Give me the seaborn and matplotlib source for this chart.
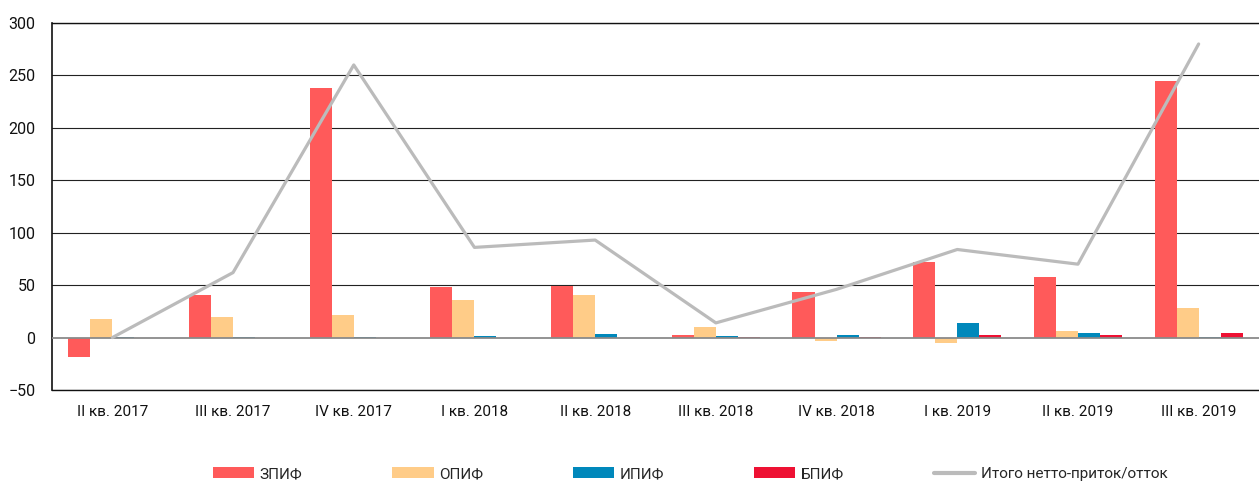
import numpy as np
import pandas as pd
import matplotlib
matplotlib.use("Agg")
import matplotlib.pyplot as plt
import seaborn as sns
from matplotlib.lines import Line2D
from matplotlib.patches import Patch

# Кварталы и значения (млрд руб.)
quarters = ['II кв. 2017', 'III кв. 2017', 'IV кв. 2017', 'I кв. 2018', 'II кв. 2018',
            'III кв. 2018', 'IV кв. 2018', 'I кв. 2019', 'II кв. 2019', 'III кв. 2019']
zpif = [-19, 41, 238, 48, 49, 2, 43, 72, 58, 245]
opif = [18, 20, 22, 36, 41, 10, -3, -5.5, 6, 28]
ipif = [0.5, 0.3, 0.3, 1.5, 3, 1.5, 2.5, 14, 4, 0.5]
bpif = [0, 0, 0, 0, 0, 0.5, 0.7, 2.5, 2.2, 4.5]
total = [0, 62, 260, 86, 93, 14, 46, 84, 70, 280]

funds = ['ЗПИФ', 'ОПИФ', 'ИПИФ', 'БПИФ']
colors = {'ЗПИФ': '#FF5A5A', 'ОПИФ': '#FFCC88', 'ИПИФ': '#0088BB', 'БПИФ': '#EE1133'}
line_color = '#BBBBBB'
line_label = 'Итого нетто-приток/отток'

# Собираем длинную таблицу для seaborn
df = pd.DataFrame({'Квартал': quarters, 'ЗПИФ': zpif, 'ОПИФ': opif, 'ИПИФ': ipif, 'БПИФ': bpif})
long_df = df.melt(id_vars='Квартал', var_name='Фонд', value_name='Сумма')

sns.set_style("white")
plt.rcParams['font.family'] = ['Roboto', 'DejaVu Sans']

fig = plt.figure(figsize=(12.59, 4.83), dpi=100)
ax = fig.add_axes([52 / 1259, 1 - 390 / 483, (1259 - 52) / 1259, (390 - 23) / 483])

# Сетка
for v in range(-50, 301, 50):
    if v == 0:
        continue
    ax.axhline(v, color='#222222', lw=0.8, zorder=0)

sns.barplot(data=long_df, x='Квартал', y='Сумма', hue='Фонд', hue_order=funds,
            palette=colors, saturation=1, width=0.73, errorbar=None, linewidth=0,
            ax=ax, legend=False, zorder=2)

ax.axhline(0, color='#8A8A8A', lw=1.3, zorder=3)

# Линия итогов по центрам кварталов
sns.lineplot(x=np.arange(len(quarters)), y=total, color=line_color, linewidth=2.3,
             ax=ax, zorder=4)

ax.set_xlim(-0.5, len(quarters) - 0.5)
ax.set_ylim(-50, 300)
ax.set_yticks(range(-50, 301, 50))
ax.set_xticks(range(len(quarters)))
ax.set_xticklabels(quarters)
ax.set_xlabel('')
ax.set_ylabel('')
ax.tick_params(axis='y', length=0, pad=12, labelsize=11.5, colors='#111111')
ax.tick_params(axis='x', length=0, pad=11, labelsize=11, colors='#111111')

ax.spines['right'].set_visible(False)
ax.spines['left'].set_color('#111111')
ax.spines['left'].set_linewidth(1.2)
ax.spines['bottom'].set_color('#111111')
ax.spines['bottom'].set_linewidth(1.0)
ax.spines['top'].set_color('#111111')
ax.spines['top'].set_linewidth(1.0)

# Легенда снизу
handles = [Patch(facecolor=colors[f], edgecolor='none') for f in funds]
handles.append(Line2D([0], [0], color=line_color, lw=3))
fig.legend(handles, funds + [line_label], loc='center left',
           bbox_to_anchor=(213 / 1259, 1 - 474 / 483), ncol=5, frameon=False,
           fontsize=11, handlelength=2.7, handleheight=0.75, handletextpad=0.35,
           columnspacing=5.9, borderpad=0, borderaxespad=0)

fig.savefig('out.png', dpi=100)
